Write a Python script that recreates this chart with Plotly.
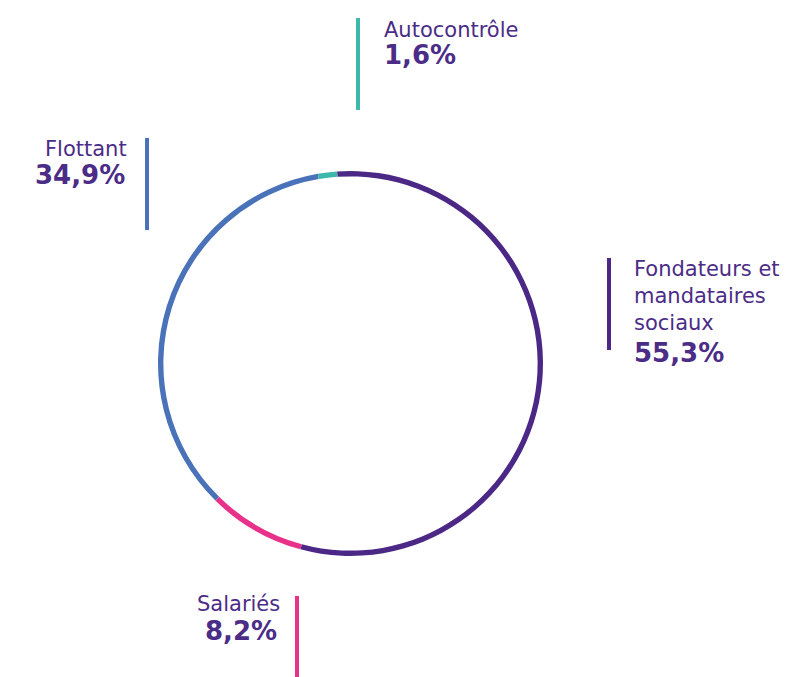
import plotly.graph_objects as go

W, H = 804, 677

labels = ["Fondateurs et mandataires sociaux", "Salariés", "Flottant", "Autocontrôle"]
values = [55.3, 8.2, 34.9, 1.6]
value_text = ["55,3%", "8,2%", "34,9%", "1,6%"]
colors = ["#4b2885", "#e8328a", "#4a72b9", "#3db8aa"]
text_color = "#4b2c87"

def px(x):
    return x / W

def py(y):
    return 1 - y / H

fig = go.Figure(go.Pie(
    labels=labels,
    values=values,
    marker=dict(colors=colors, line=dict(width=0)),
    hole=0.972,
    sort=False,
    direction="clockwise",
    rotation=-4,
    textinfo="none",
    hoverinfo="label+percent",
    domain=dict(x=[px(158), px(543)], y=[py(556), py(171)]),
    showlegend=False,
))

FONT = "DejaVu Sans"
annotations = []
shapes = []

def add_label(lines, value, x, y0, anchor, step=27, vgap=26, vx=None):
    y = y0
    for ln in lines:
        annotations.append(dict(x=px(x), y=py(y), xref="paper", yref="paper",
                                text=ln, showarrow=False, xanchor=anchor, yanchor="middle",
                                font=dict(family=FONT, size=21, color=text_color)))
        y += step
    y += vgap - step
    annotations.append(dict(x=px(vx if vx is not None else x), y=py(y), xref="paper", yref="paper",
                            text="<b>%s</b>" % value, showarrow=False, xanchor=anchor, yanchor="middle",
                            font=dict(family=FONT, size=26, color=text_color)))

def add_bar(x, y1, y2, color):
    shapes.append(dict(type="line", xref="paper", yref="paper",
                       x0=px(x), x1=px(x), y0=py(y1), y1=py(y2),
                       line=dict(color=color, width=4)))

# Fondateurs
add_bar(609, 258, 350, colors[0])
add_label(["Fondateurs et", "mandataires", "sociaux"], value_text[0], 632, 269, "left", step=27, vgap=30)
# Salariés
add_bar(297, 596, 677, colors[1])
add_label(["Salariés"], value_text[1], 282, 603.5, "right", vgap=27, vx=279)
# Flottant
add_bar(147, 138, 230, colors[2])
add_label(["Flottant"], value_text[2], 129, 149, "right", vgap=26, vx=127)
# Autocontrôle
add_bar(358, 18, 110, colors[3])
add_label(["Autocontrôle"], value_text[3], 382, 29.5, "left", vgap=26)

fig.update_layout(
    width=W, height=H,
    margin=dict(l=0, r=0, t=0, b=0),
    paper_bgcolor="white",
    plot_bgcolor="white",
    annotations=annotations,
    shapes=shapes,
)

fig.write_html("out.html")
